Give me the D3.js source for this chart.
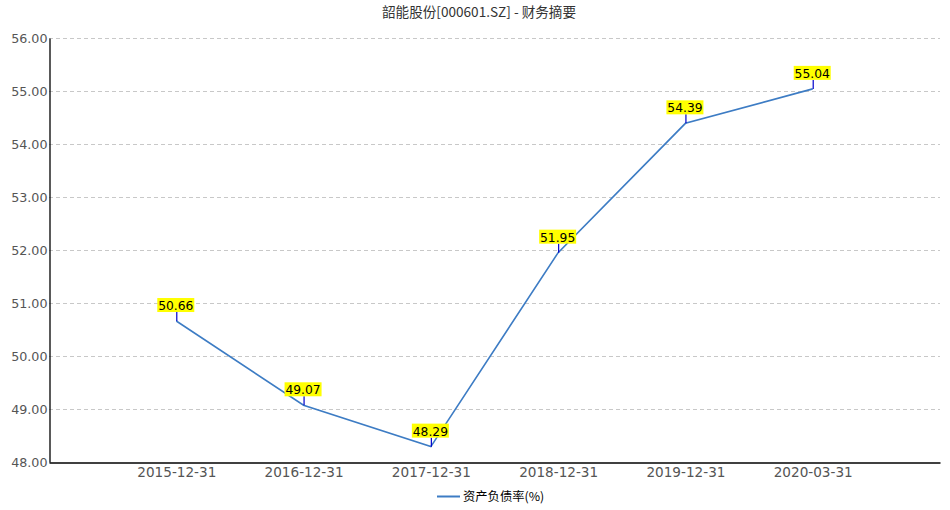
<!DOCTYPE html>
<html><head><meta charset="utf-8">
<script src="https://cdn.jsdelivr.net/npm/d3@7"></script>
<style>body{margin:0;background:#fff}svg{display:block}</style>
</head><body><svg id="c" width="950" height="510"></svg>
<script>
const categories = ["2015-12-31","2016-12-31","2017-12-31","2018-12-31","2019-12-31","2020-03-31"];
const values = [50.66, 49.07, 48.29, 51.95, 54.39, 55.04];
const yTicks = [48,49,50,51,52,53,54,55,56];
const title = "韶能股份[000601.SZ] - 财务摘要";
const seriesName = "资产负债率(%)";

const svg = d3.select("#c");
const L = 49, R = 940, T = 38, B = 462;
const font = "'Noto Sans CJK SC','DejaVu Sans',sans-serif";
const x = d3.scaleLinear().domain([0, categories.length + 1]).range([L, R]);
const y = d3.scaleLinear().domain([48, 56]).range([B, T]);

svg.append("text").attr("x", 479).attr("y", 17).attr("text-anchor", "middle")
  .attr("font-family", font).attr("font-size", 13.6).attr("fill", "#333").text(title);

// grid
svg.append("g").selectAll("line").data(yTicks.slice(1)).join("line")
  .attr("x1", L).attr("x2", R).attr("y1", d => Math.round(y(d)) + 0.5).attr("y2", d => Math.round(y(d)) + 0.5)
  .attr("stroke", "#c8c8c8").attr("stroke-dasharray", "4,3");

// y axis
const ya = svg.append("g").attr("transform", `translate(${L + 0.5},0)`)
  .call(d3.axisLeft(y).tickValues(yTicks).tickFormat(d3.format(".2f")).tickSize(0).tickPadding(2));
ya.select(".domain").attr("stroke", "#000").attr("stroke-width", 1.3);
ya.selectAll("text").attr("font-family", "'DejaVu Sans',sans-serif").attr("font-size", 12.7).attr("fill", "#555");

// x axis
const xa = svg.append("g").attr("transform", `translate(0,${B + 0.5})`)
  .call(d3.axisBottom(x).tickValues(categories.map((c, i) => i + 1)).tickFormat(i => categories[i - 1]).tickSize(0).tickPadding(5));
xa.select(".domain").attr("stroke", "#000").attr("stroke-width", 1.3);
xa.selectAll("text").attr("font-family", "'DejaVu Sans',sans-serif").attr("font-size", 13.6).attr("fill", "#555");

// line
svg.append("path").datum(values)
  .attr("d", d3.line().x((d, i) => x(i + 1)).y(d => y(d)))
  .attr("fill", "none").attr("stroke", "#3d7cc4").attr("stroke-width", 1.6);

// labels
const lg = svg.append("g").selectAll("g").data(values).join("g")
  .attr("transform", (d, i) => `translate(${x(i + 1)},${y(d)})`);
lg.append("line").attr("x1", 0.5).attr("x2", 0.5).attr("y1", 0).attr("y2", -9).attr("stroke", "#0000cc").attr("stroke-width", 1.2);
lg.append("rect").attr("x", -19).attr("y", -23).attr("width", 37).attr("height", 14).attr("fill", "#ffff00");
lg.append("text").attr("x", -0.5).attr("y", -11).attr("text-anchor", "middle")
  .attr("font-family", "'DejaVu Sans',sans-serif").attr("font-size", 12.3).attr("fill", "#000").text(d => d.toFixed(2));

// legend
svg.append("line").attr("x1", 437).attr("x2", 460).attr("y1", 496.5).attr("y2", 496.5).attr("stroke", "#3d7cc4").attr("stroke-width", 2);
svg.append("text").attr("x", 463).attr("y", 501).attr("font-family", font).attr("font-size", 12.3).attr("fill", "#000").text(seriesName);
</script></body></html>
